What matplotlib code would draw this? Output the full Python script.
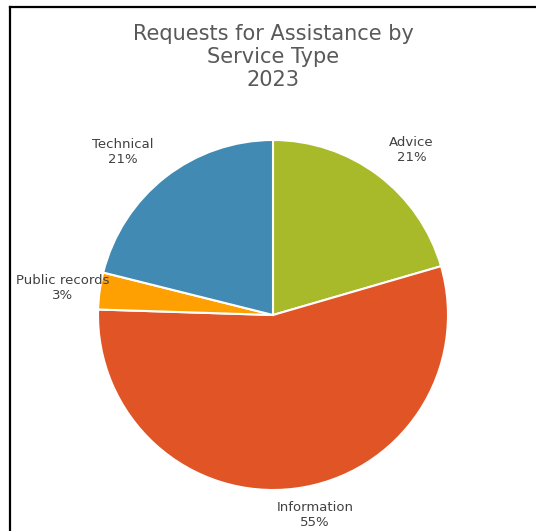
import numpy as np
import matplotlib.pyplot as plt
from matplotlib.lines import Line2D

# request shares by service type (percent of requests)
categories = ["Advice", "Information", "Public records", "Technical"]
shares = [20.5, 55.0, 3.4, 21.1]
shown_pct = ["21%", "55%", "3%", "21%"]
colors = ["#A8B92A", "#E05426", "#FFA002", "#418AB3"]

# label placement: radial distance and angular nudge (deg) from wedge middle
label_dist = [1.23, 1.17, 1.21, 1.265]
label_nudge = [-3.2, 4.7, 0.6, 4.6]

fig = plt.figure(figsize=(5.36, 5.31), dpi=100)
fig.patch.set_facecolor("white")

# frame (cut off at right and bottom like the screenshot)
fig.add_artist(Line2D([10 / 536, 10 / 536], [0, 1 - 7 / 531], transform=fig.transFigure,
                      color="black", lw=1.6))
fig.add_artist(Line2D([10 / 536, 1], [1 - 7 / 531, 1 - 7 / 531], transform=fig.transFigure,
                      color="black", lw=1.6))

ax = fig.add_axes([98 / 536, 41 / 531, 350 / 536, 350 / 531])
wedges, _ = ax.pie(shares, colors=colors, startangle=90, counterclock=False,
                   wedgeprops=dict(edgecolor="white", linewidth=1.5))
for w, cat, pct, d, nudge in zip(wedges, categories, shown_pct, label_dist, label_nudge):
    mid = np.deg2rad((w.theta1 + w.theta2) / 2 + nudge)
    ax.text(d * np.cos(mid), d * np.sin(mid), f"{cat}\n{pct}", ha="center", va="center",
            fontsize=9.5, color="#404040", linespacing=1.2)
ax.set_xlim(-1, 1)
ax.set_ylim(-1, 1)
ax.set_aspect("equal")

fig.text(273 / 536, 1 - 57 / 531, "Requests for Assistance by\nService Type\n2023",
         ha="center", va="center", fontsize=15, color="#595959", linespacing=1.2)

fig.savefig("out.png", dpi=100)
